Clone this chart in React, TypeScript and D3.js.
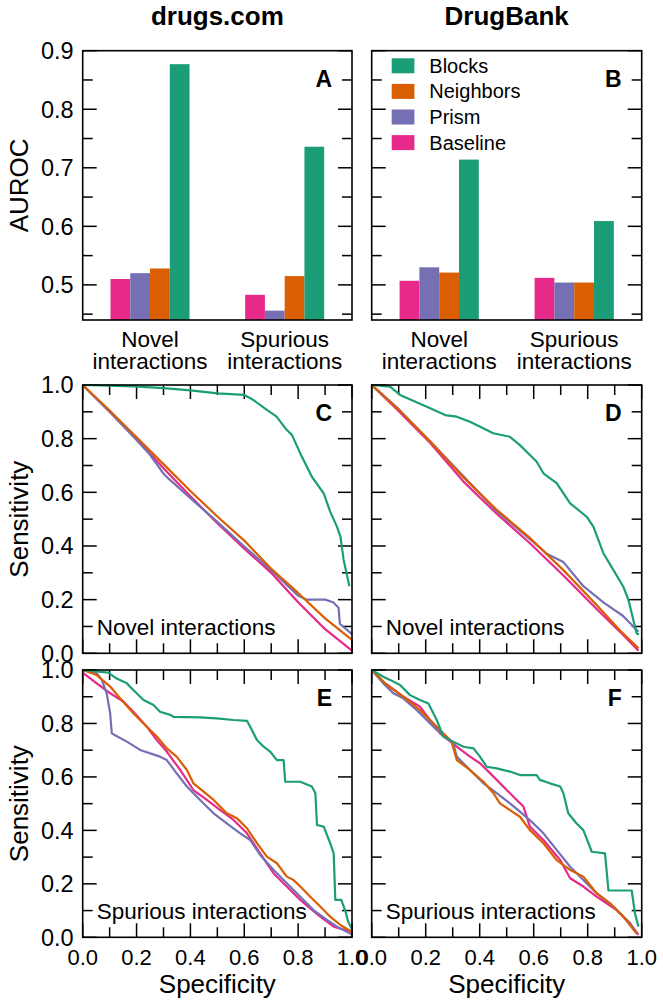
import React from "react";
import * as d3 from "d3";

// ---------- data ----------
const seriesNames = ["Baseline", "Prism", "Neighbors", "Blocks"];
const seriesColors = ["#e7298a", "#7570b3", "#d95f02", "#1b9e77"];
const legendOrder = ["Blocks", "Neighbors", "Prism", "Baseline"];
const categories = ["Novel interactions", "Spurious interactions"];
const columnTitles = ["drugs.com", "DrugBank"];

// AUROC per category, values in seriesNames order
const aurocDrugsComNovel = [0.51, 0.52, 0.528, 0.877];
const aurocDrugsComSpurious = [0.483, 0.456, 0.515, 0.736];
const aurocDrugBankNovel = [0.507, 0.53, 0.521, 0.714];
const aurocDrugBankSpurious = [0.512, 0.504, 0.504, 0.609];

const barYTicks = [0.45, 0.5, 0.55, 0.6, 0.65, 0.7, 0.75, 0.8, 0.85, 0.9];
const rocTicks = [0, 0.1, 0.2, 0.3, 0.4, 0.5, 0.6, 0.7, 0.8, 0.9, 1.0];

// ROC curves: [specificity, sensitivity]
const rocC_Baseline = [[0,1],[0.1,0.9],[0.2,0.8],[0.3,0.69],[0.4,0.585],[0.5,0.485],[0.6,0.39],[0.7,0.3],[0.8,0.19],[0.85,0.14],[0.9,0.09],[0.95,0.05],[1,0.01]];
const rocC_Prism = [[0,1],[0.05,0.95],[0.1,0.9],[0.2,0.795],[0.25,0.74],[0.3,0.67],[0.32,0.65],[0.4,0.578],[0.5,0.49],[0.6,0.398],[0.7,0.31],[0.8,0.215],[0.83,0.2],[0.9,0.2],[0.93,0.19],[0.95,0.17],[0.955,0.11],[0.99,0.08],[1,0.07]];
const rocC_Neighbors = [[0,1],[0.1,0.905],[0.2,0.805],[0.3,0.705],[0.4,0.605],[0.5,0.51],[0.6,0.42],[0.7,0.315],[0.8,0.225],[0.9,0.13],[0.95,0.09],[1,0.05]];
const rocC_Blocks = [[0,1],[0.1,0.998],[0.19,0.995],[0.3,0.988],[0.4,0.98],[0.5,0.969],[0.6,0.963],[0.634,0.944],[0.684,0.907],[0.72,0.882],[0.758,0.832],[0.777,0.814],[0.808,0.745],[0.851,0.658],[0.895,0.596],[0.919,0.528],[0.944,0.472],[0.957,0.435],[0.969,0.348],[0.988,0.26],[0.99,0.25]];

const rocD_Baseline = [[0,1],[0.093,0.91],[0.216,0.785],[0.34,0.64],[0.463,0.52],[0.586,0.41],[0.71,0.29],[0.833,0.165],[0.92,0.08],[0.988,0.01]];
const rocD_Prism = [[0,1],[0.05,0.955],[0.1,0.91],[0.216,0.79],[0.34,0.66],[0.463,0.53],[0.586,0.425],[0.65,0.37],[0.71,0.34],[0.784,0.25],[0.858,0.19],[0.93,0.14],[0.988,0.08]];
const rocD_Neighbors = [[0,1],[0.093,0.915],[0.216,0.79],[0.34,0.655],[0.463,0.535],[0.586,0.43],[0.71,0.31],[0.833,0.18],[0.92,0.085],[0.988,0.019]];
const rocD_Blocks = [[0,1],[0.068,0.994],[0.105,0.963],[0.204,0.919],[0.272,0.888],[0.315,0.882],[0.364,0.863],[0.426,0.832],[0.45,0.82],[0.512,0.807],[0.549,0.776],[0.586,0.739],[0.611,0.714],[0.636,0.671],[0.685,0.634],[0.735,0.559],[0.796,0.509],[0.821,0.472],[0.858,0.373],[0.895,0.311],[0.932,0.248],[0.951,0.199],[0.969,0.124],[0.981,0.075],[0.99,0.07]];

const rocE_Baseline = [[0,0.99],[0.052,0.95],[0.102,0.913],[0.151,0.882],[0.188,0.844],[0.238,0.788],[0.275,0.738],[0.312,0.695],[0.362,0.626],[0.411,0.551],[0.461,0.514],[0.511,0.476],[0.56,0.439],[0.61,0.389],[0.659,0.314],[0.709,0.239],[0.758,0.19],[0.808,0.14],[0.845,0.108],[0.882,0.077],[0.932,0.04],[1,0.02]];
const rocE_Prism = [[0,1],[0.052,0.988],[0.071,0.963],[0.089,0.913],[0.102,0.838],[0.108,0.763],[0.12,0.756],[0.164,0.732],[0.213,0.701],[0.287,0.676],[0.312,0.663],[0.349,0.613],[0.387,0.564],[0.436,0.514],[0.486,0.464],[0.535,0.426],[0.585,0.389],[0.622,0.364],[0.659,0.308],[0.709,0.252],[0.758,0.202],[0.808,0.152],[0.857,0.102],[0.907,0.065],[0.944,0.04],[1,0.01]];
const rocE_Neighbors = [[0,1],[0.052,0.981],[0.102,0.938],[0.139,0.894],[0.188,0.838],[0.226,0.8],[0.275,0.751],[0.312,0.707],[0.349,0.676],[0.387,0.626],[0.411,0.576],[0.449,0.545],[0.486,0.514],[0.535,0.464],[0.573,0.445],[0.61,0.408],[0.647,0.352],[0.684,0.302],[0.721,0.277],[0.758,0.227],[0.783,0.214],[0.808,0.19],[0.845,0.152],[0.882,0.115],[0.919,0.077],[0.957,0.046],[1,0.02]];
const rocE_Blocks = [[0,1],[0.095,0.99],[0.126,0.968],[0.164,0.95],[0.188,0.925],[0.226,0.888],[0.263,0.869],[0.287,0.844],[0.325,0.832],[0.337,0.825],[0.436,0.823],[0.498,0.819],[0.56,0.813],[0.61,0.81],[0.622,0.788],[0.647,0.738],[0.672,0.713],[0.696,0.695],[0.721,0.663],[0.746,0.663],[0.752,0.582],[0.808,0.582],[0.851,0.564],[0.864,0.539],[0.87,0.42],[0.895,0.414],[0.919,0.352],[0.932,0.314],[0.938,0.14],[0.96,0.14],[0.975,0.1],[0.985,0.06],[1,0.03]];

const rocF_Baseline = [[0,1],[0.043,0.956],[0.117,0.9],[0.179,0.863],[0.253,0.763],[0.315,0.713],[0.364,0.676],[0.401,0.651],[0.451,0.601],[0.5,0.551],[0.537,0.514],[0.562,0.489],[0.586,0.414],[0.636,0.364],[0.698,0.289],[0.735,0.221],[0.784,0.19],[0.833,0.152],[0.907,0.102],[0.957,0.052],[0.988,0.009]];
const rocF_Prism = [[0,1],[0.043,0.95],[0.08,0.913],[0.117,0.894],[0.167,0.85],[0.241,0.776],[0.302,0.726],[0.315,0.676],[0.364,0.626],[0.414,0.576],[0.463,0.539],[0.512,0.501],[0.549,0.47],[0.599,0.426],[0.636,0.389],[0.685,0.327],[0.735,0.264],[0.784,0.214],[0.833,0.165],[0.895,0.115],[0.957,0.052],[0.981,0.015]];
const rocF_Neighbors = [[0,1],[0.056,0.944],[0.117,0.9],[0.179,0.85],[0.241,0.788],[0.296,0.732],[0.315,0.663],[0.364,0.626],[0.414,0.582],[0.451,0.539],[0.475,0.501],[0.512,0.476],[0.549,0.451],[0.586,0.401],[0.636,0.352],[0.685,0.289],[0.735,0.252],[0.784,0.227],[0.833,0.165],[0.883,0.127],[0.932,0.077],[0.981,0.015]];
const rocF_Blocks = [[0,1],[0.043,0.975],[0.068,0.963],[0.105,0.944],[0.142,0.906],[0.179,0.888],[0.21,0.875],[0.241,0.813],[0.265,0.751],[0.302,0.732],[0.34,0.713],[0.377,0.707],[0.401,0.676],[0.426,0.638],[0.463,0.632],[0.512,0.62],[0.549,0.607],[0.611,0.607],[0.623,0.589],[0.66,0.576],[0.698,0.564],[0.71,0.539],[0.728,0.464],[0.759,0.426],[0.784,0.401],[0.815,0.32],[0.864,0.314],[0.877,0.175],[0.963,0.175],[0.975,0.09],[0.988,0.04]];

// ---------- layout ----------
const W = 663;
const H = 1007;
const cols = [{ l: 82.7, r: 352 }, { l: 371.7, r: 641.7 }];
const rows = [{ t: 50.7, b: 320 }, { t: 385, b: 653.3 }, { t: 670, b: 937.3 }];
const FONT = "'Liberation Sans', Arial, Helvetica, sans-serif";
const MAJOR = 14;
const MINOR = 10;

function Frame({ l, r, t, b }) {
  return <rect x={l} y={t} width={r - l} height={b - t} fill="none" stroke="#000" strokeWidth={1.6} />;
}

function BarPanel({ col, values, letter, showY, legend }) {
  const { l, r } = cols[col];
  const { t, b } = rows[0];
  const y = d3.scaleLinear().domain([0.44, 0.9]).range([b, t]);
  const x0 = d3.scaleBand().domain(categories).range([l, r]).paddingInner(0.413).paddingOuter(0.2065);
  const x1 = d3.scaleBand().domain(seriesNames).range([0, x0.bandwidth()]);
  const color = d3.scaleOrdinal().domain(seriesNames).range(seriesColors);
  return (
    <g>
      {categories.map((c, ci) => (
        <g key={c}>
          {seriesNames.map((s, si) => (
            <rect
              key={s}
              x={x0(c) + x1(s)}
              y={y(values[ci][si])}
              width={x1.bandwidth()}
              height={b - y(values[ci][si])}
              fill={color(s)}
            />
          ))}
          {c.split(" ").map((w, wi) => (
            <text key={w} x={x0(c) + x0.bandwidth() / 2} y={347 + wi * 22} textAnchor="middle" fontSize={22.5}>
              {w}
            </text>
          ))}
        </g>
      ))}
      {barYTicks.map((v) => {
        const major = Math.round(v * 20) % 2 === 0;
        const len = major ? MAJOR : MINOR;
        return (
          <g key={v}>
            <line x1={l} x2={l + len} y1={y(v)} y2={y(v)} stroke="#000" strokeWidth={1.5} />
            <line x1={r} x2={r - len} y1={y(v)} y2={y(v)} stroke="#000" strokeWidth={1.5} />
            {showY && major && (
              <text x={l - 9} y={y(v)} dy="0.36em" textAnchor="end" fontSize={23.5}>
                {d3.format(".1f")(v)}
              </text>
            )}
          </g>
        );
      })}
      <Frame l={l} r={r} t={t} b={b} />
      <text x={r - 20} y={t + 36} textAnchor="end" fontSize={23} fontWeight="bold">
        {letter}
      </text>
      {legend &&
        legendOrder.map((s, i) => {
          const cy = 65.8 + i * 25.6;
          return (
            <g key={s}>
              <rect x={391.7} y={cy - 7.5} width={22.7} height={15} fill={color(s)} />
              <text x={429.3} y={cy} dy="0.35em" fontSize={20}>
                {s}
              </text>
            </g>
          );
        })}
    </g>
  );
}

function RocPanel({ col, row, curves, letter, label, showY, showX }) {
  const { l, r } = cols[col];
  const { t, b } = rows[row];
  const x = d3.scaleLinear().domain([0, 1]).range([l, r]);
  const y = d3.scaleLinear().domain([0, 1]).range([b, t]);
  const line = d3
    .line()
    .x((d) => x(d[0]))
    .y((d) => y(d[1]));
  return (
    <g>
      {rocTicks.map((v) => {
        const major = Math.round(v * 10) % 2 === 0;
        const len = major ? MAJOR : MINOR;
        return (
          <g key={v}>
            <line x1={x(v)} x2={x(v)} y1={b} y2={b - len} stroke="#000" strokeWidth={1.5} />
            <line x1={x(v)} x2={x(v)} y1={t} y2={t + len} stroke="#000" strokeWidth={1.5} />
            <line x1={l} x2={l + len} y1={y(v)} y2={y(v)} stroke="#000" strokeWidth={1.5} />
            <line x1={r} x2={r - len} y1={y(v)} y2={y(v)} stroke="#000" strokeWidth={1.5} />
            {showY && major && (
              <text x={l - 9} y={y(v)} dy="0.36em" textAnchor="end" fontSize={23.5}>
                {d3.format(".1f")(v)}
              </text>
            )}
            {showX && major && (
              <text x={x(v)} y={965} textAnchor="middle" fontSize={22}>
                {d3.format(".1f")(v)}
              </text>
            )}
          </g>
        );
      })}
      {curves.map((c, i) => (
        <path key={i} d={line(c)} fill="none" stroke={seriesColors[i]} strokeWidth={2.2} strokeLinejoin="round" />
      ))}
      <Frame l={l} r={r} t={t} b={b} />
      <text x={r - 20} y={t + 36} textAnchor="end" fontSize={23} fontWeight="bold">
        {letter}
      </text>
      <text x={l + 14} y={b - 18.5} fontSize={22.5}>
        {label}
      </text>
    </g>
  );
}

export default function App() {
  const colCenters = cols.map((c) => (c.l + c.r) / 2);
  return (
    <svg
      width={W}
      height={H}
      viewBox={`0 0 ${W} ${H}`}
      style={{ position: "absolute", left: 0, top: 0, background: "#fff" }}
      fontFamily={FONT}
    >
      <rect x={0} y={0} width={W} height={H} fill="#fff" />
      {columnTitles.map((tt, i) => (
        <text key={tt} x={colCenters[i]} y={25} textAnchor="middle" fontSize={26} fontWeight="bold">
          {tt}
        </text>
      ))}
      <BarPanel col={0} values={[aurocDrugsComNovel, aurocDrugsComSpurious]} letter="A" showY legend={false} />
      <BarPanel col={1} values={[aurocDrugBankNovel, aurocDrugBankSpurious]} letter="B" showY={false} legend />
      <RocPanel col={0} row={1} curves={[rocC_Baseline, rocC_Prism, rocC_Neighbors, rocC_Blocks]} letter="C" label="Novel interactions" showY showX={false} />
      <RocPanel col={1} row={1} curves={[rocD_Baseline, rocD_Prism, rocD_Neighbors, rocD_Blocks]} letter="D" label="Novel interactions" showY={false} showX={false} />
      <RocPanel col={0} row={2} curves={[rocE_Baseline, rocE_Prism, rocE_Neighbors, rocE_Blocks]} letter="E" label="Spurious interactions" showY showX />
      <RocPanel col={1} row={2} curves={[rocF_Baseline, rocF_Prism, rocF_Neighbors, rocF_Blocks]} letter="F" label="Spurious interactions" showY={false} showX />
      {[["AUROC", 0], ["Sensitivity", 1], ["Sensitivity", 2]].map(([txt, ri]) => {
        const cy = (rows[ri].t + rows[ri].b) / 2;
        return (
          <text key={`${txt}${ri}`} transform={`translate(28,${cy}) rotate(-90)`} textAnchor="middle" fontSize={26}>
            {txt}
          </text>
        );
      })}
      {colCenters.map((cx, i) => (
        <text key={i} x={cx} y={993} textAnchor="middle" fontSize={26}>
          Specificity
        </text>
      ))}
    </svg>
  );
}
